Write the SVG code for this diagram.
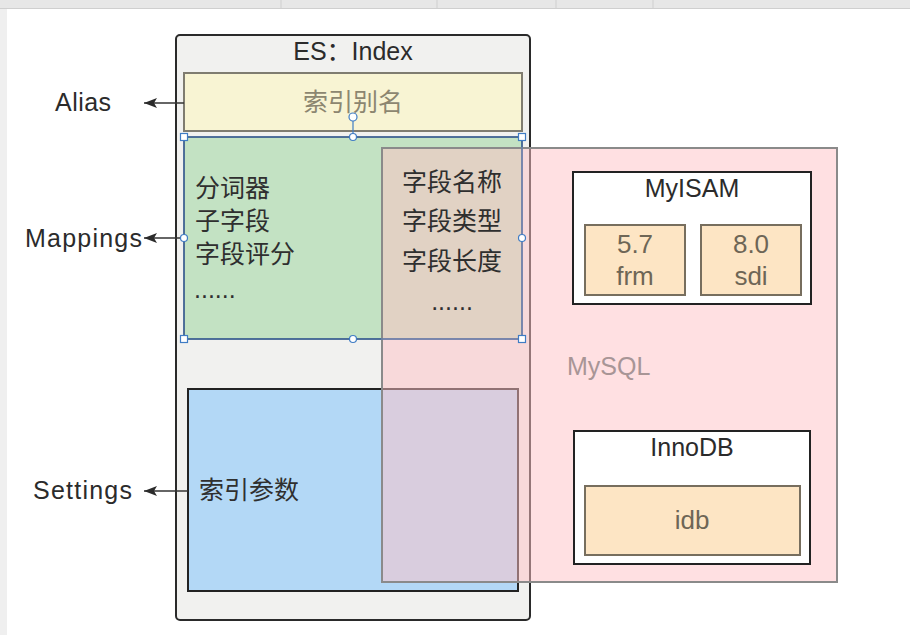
<svg xmlns="http://www.w3.org/2000/svg" width="910" height="635" viewBox="0 0 910 635">
<defs>
<style>
.lat{font-family:"Liberation Sans","Noto Sans CJK SC",sans-serif;font-size:25px;fill:#2b2b2b}
.cjk{font-family:"Noto Sans CJK SC","Liberation Sans",sans-serif;font-size:25px;fill:#2f2f2f}
.file{fill:#fde5c4;stroke:#776e5e;stroke-width:2}
.ftxt{font-family:"Liberation Sans",sans-serif;font-size:26px;fill:#6e6656;text-anchor:middle}
.eng{fill:#ffffff;stroke:#222;stroke-width:2}
.hs{fill:#ffffff;stroke:#3f7cc4;stroke-width:1.2}
.conn{stroke:#333;stroke-width:1.6;fill:none}
</style>
<marker id="arr" markerUnits="userSpaceOnUse" markerWidth="14" markerHeight="10" refX="13" refY="5" orient="auto">
<path d="M0,0 L13,5 L0,10 L3,5 z" fill="#2b2b2b"/>
</marker>
</defs>
<rect x="0" y="0" width="910" height="635" fill="#ffffff"/>
<g id="chrome">
<rect x="0" y="0" width="910" height="8" fill="#e7e7e7"/>
<line x1="0" y1="8.5" x2="910" y2="8.5" stroke="#cfcfcf"/>
<line x1="281" y1="0" x2="281" y2="8" stroke="#cfcfcf"/>
<line x1="437" y1="0" x2="437" y2="8" stroke="#cfcfcf"/>
<line x1="556" y1="0" x2="556" y2="8" stroke="#cfcfcf"/>
<line x1="653" y1="0" x2="653" y2="8" stroke="#cfcfcf"/>
<rect x="0" y="9" width="7" height="626" fill="#efefef"/>
</g>
<g id="es-index">
<rect x="176" y="35" width="354" height="585" rx="4" fill="#f1f1ef" stroke="#2a2a2a" stroke-width="2"/>
<text class="lat" x="353" y="60" text-anchor="middle">ES：Index</text>
</g>
<g id="alias-box">
<rect x="184" y="73" width="338" height="58" fill="#f8f4d3" stroke="#7f7c70" stroke-width="2"/>
<text class="cjk" x="353" y="111" text-anchor="middle" style="fill:#8c8670">索引别名</text>
</g>
<g id="mappings-box">
<rect x="184" y="137" width="338" height="202" fill="#c3e2c3" stroke="#263c5c" stroke-width="1.5"/>
</g>
<g id="settings-box">
<rect x="188" y="389" width="330" height="202" fill="#b3d8f6" stroke="#222" stroke-width="2"/>
</g>
<g id="mysql">
<rect x="382" y="148" width="455" height="434" fill="#ffc1c5" fill-opacity="0.5" stroke="#8a8a8a" stroke-width="2"/>
<text class="lat" x="567" y="375" style="fill:#a89596">MySQL</text>
</g>
<g id="mappings-text">
<text class="cjk"><tspan x="195" y="197">分词器</tspan><tspan x="195" y="230">子字段</tspan><tspan x="195" y="263">字段评分</tspan><tspan x="194" y="298" style="font-family:'Liberation Sans',sans-serif">......</tspan></text>
<text class="cjk" text-anchor="middle"><tspan x="452" y="191">字段名称</tspan><tspan x="452" y="230">字段类型</tspan><tspan x="452" y="270">字段长度</tspan><tspan x="452" y="310" style="font-family:'Liberation Sans',sans-serif">......</tspan></text>
</g>
<g id="settings-text">
<text class="cjk" x="199" y="499">索引参数</text>
</g>
<g id="myisam">
<rect class="eng" x="573" y="172" width="238" height="132"/>
<text class="lat" x="692" y="197" text-anchor="middle">MyISAM</text>
<rect class="file" x="585" y="225" width="100" height="70"/>
<text class="ftxt" x="635" y="253">5.7</text>
<text class="ftxt" x="635" y="285">frm</text>
<rect class="file" x="701" y="225" width="100" height="70"/>
<text class="ftxt" x="751" y="253">8.0</text>
<text class="ftxt" x="751" y="285">sdi</text>
</g>
<g id="innodb">
<rect class="eng" x="574" y="431" width="236" height="133"/>
<text class="lat" x="692" y="456" text-anchor="middle">InnoDB</text>
<rect class="file" x="585" y="486" width="215" height="69"/>
<text class="ftxt" x="692" y="529">idb</text>
</g>
<g id="selection">
<rect x="184" y="137" width="338" height="202" fill="none" stroke="#4a78b8" stroke-width="1"/>
<line x1="353" y1="121" x2="353" y2="137" stroke="#3f7cc4" stroke-width="1.2"/>
<circle class="hs" cx="353" cy="117" r="4"/>
<circle class="hs" cx="353" cy="137" r="3.5"/>
<circle class="hs" cx="353" cy="339" r="3.5"/>
<circle class="hs" cx="184" cy="238" r="3.5"/>
<circle class="hs" cx="522" cy="238" r="3.5"/>
<rect class="hs" x="180.5" y="133.5" width="7" height="7"/>
<rect class="hs" x="518.5" y="133.5" width="7" height="7"/>
<rect class="hs" x="180.5" y="335.5" width="7" height="7"/>
<rect class="hs" x="518.5" y="335.5" width="7" height="7"/>
</g>
<g id="labels">
<text class="lat" x="55" y="111" textLength="56" lengthAdjust="spacing">Alias</text>
<text class="lat" x="25" y="247" textLength="117" lengthAdjust="spacing">Mappings</text>
<text class="lat" x="33" y="499" textLength="99" lengthAdjust="spacing">Settings</text>
</g>
<g id="connectors">
<line class="conn" x1="184" y1="103" x2="144" y2="103" marker-end="url(#arr)"/>
<line class="conn" x1="180" y1="238" x2="144" y2="238" marker-end="url(#arr)"/>
<line class="conn" x1="188" y1="491" x2="144" y2="491" marker-end="url(#arr)"/>
</g>
</svg>
